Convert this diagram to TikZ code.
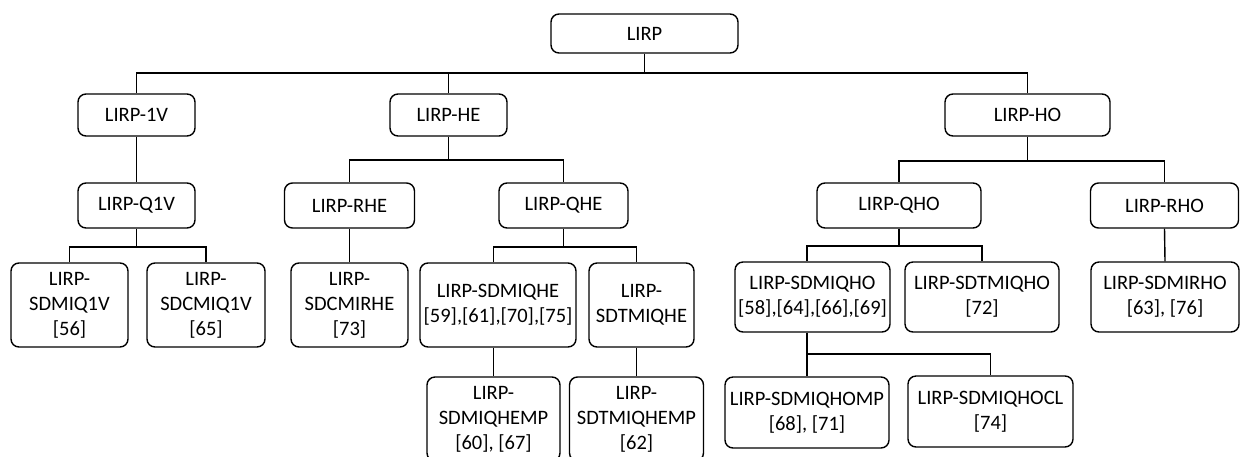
\documentclass[tikz,border=0pt]{standalone}
\usepackage{fontspec}
\setmainfont{Carlito}
\begin{document}
\begin{tikzpicture}[x=1pt,y=-1pt,
  box/.style={draw, rounded corners=8pt, line width=1.4pt, align=center,
              inner sep=0pt, font=\fontsize{20.5}{25}\selectfont},
  wh/.style 2 args={minimum width=#1pt, minimum height=#2pt},
  link/.style={line width=1.4pt}]
\useasboundingbox (0,0) rectangle (1241,456);

% level 0
\node[box, wh={187}{39}] (root) at (644.5,33.5) {LIRP};
% level 1
\node[box, wh={117}{42}] (v1) at (136.5,115) {LIRP-1V};
\node[box, wh={117}{42}] (he) at (448.5,115) {LIRP-HE};
\node[box, wh={165}{42}] (ho) at (1027.5,115) {LIRP-HO};
% level 2
\node[box, wh={117}{45}] (q1v) at (136.5,205.5) {LIRP-Q1V};
\node[box, wh={130}{45}] (rhe) at (349.5,205.5) {LIRP-RHE};
\node[box, wh={129}{45}] (qhe) at (563.5,205.5) {LIRP-QHE};
\node[box, wh={164}{45}] (qho) at (899,205.5) {LIRP-QHO};
\node[box, wh={148}{45}] (rho) at (1164.5,205.5) {LIRP-RHO};
% level 3
\node[box, wh={117}{84}] (sdmiq1v) at (69.5,305) {LIRP-\\SDMIQ1V\\{}[56]};
\node[box, wh={118}{84}] (sdcmiq1v) at (206,305) {LIRP-\\SDCMIQ1V\\{}[65]};
\node[box, wh={117}{84}] (sdcmirhe) at (349.5,305) {LIRP-\\SDCMIRHE\\{}[73]};
\node[box, wh={156}{84}] (sdmiqhe) at (498,305) {LIRP-SDMIQHE\\{}[59],[61],[70],[75]};
\node[box, wh={105}{84}] (sdtmiqhe) at (641.5,305) {LIRP-\\SDTMIQHE};
\node[box, wh={155}{70}] (sdmiqho) at (812.5,297) {LIRP-SDMIQHO\\{}[58],[64],[66],[69]};
\node[box, wh={154}{70}] (sdtmiqho) at (982,297) {LIRP-SDTMIQHO\\{}[72]};
\node[box, wh={148}{70}] (sdmirho) at (1165,297) {LIRP-SDMIRHO\\{}[63], [76]};
% level 4
\node[box, wh={133}{84}] (sdmiqhemp) at (493.5,419) {LIRP-\\SDMIQHEMP\\{}[60], [67]};
\node[box, wh={134}{84}] (sdtmiqhemp) at (636.5,419) {LIRP-\\SDTMIQHEMP\\{}[62]};
\node[box, wh={164}{71}] (sdmiqhomp) at (807,412.5) {LIRP-SDMIQHOMP\\{}[68], [71]};
\node[box, wh={165}{71}] (sdmiqhocl) at (990.5,411.5) {LIRP-SDMIQHOCL\\{}[74]};

% bus levels
\coordinate (b0) at (0,73);
\coordinate (bhe) at (0,160);
\coordinate (bho) at (0,161);
\coordinate (bq1) at (0,247);
\coordinate (bqhe) at (0,247);
\coordinate (bqho) at (0,246);
\coordinate (bsd) at (0,354);

% connectors
\draw[link] (root.south) -- (root.south |- b0) -| (v1.north);
\draw[link] (root.south |- b0) -| (he.north);
\draw[link] (root.south |- b0) -| (ho.north);

\draw[link] (v1.south) -- (q1v.north);

\draw[link] (he.south) -- (he.south |- bhe) -| (rhe.north);
\draw[link] (he.south |- bhe) -| (qhe.north);

\draw[link] (ho.south) -- (ho.south |- bho) -| (qho.north);
\draw[link] (ho.south |- bho) -| (rho.north);

\draw[link] (q1v.south) -- (q1v.south |- bq1) -| (sdmiq1v.north);
\draw[link] (q1v.south |- bq1) -| (sdcmiq1v.north);

\draw[link] (rhe.south) -- (sdcmirhe.north);

\draw[link] (qhe.south) -- (qhe.south |- bqhe) -| (sdmiqhemp.north |- sdmiqhe.north);
\draw[link] (qhe.south |- bqhe) -| (sdtmiqhemp.north |- sdtmiqhe.north);

\draw[link] (sdmiqhemp.north |- sdmiqhe.south) -- (sdmiqhemp.north);
\draw[link] (sdtmiqhemp.north |- sdtmiqhe.south) -- (sdtmiqhemp.north);

\draw[link] (qho.south) -- (qho.south |- bqho) -| (sdmiqhomp.north |- sdmiqho.north);
\draw[link] (qho.south |- bqho) -| (sdtmiqho.north);

\draw[link] (rho.south) -- (sdmirho.north);

\draw[link] (sdmiqhomp.north |- sdmiqho.south) -- (sdmiqhomp.north);
\draw[link] (sdmiqhomp.north |- bsd) -| (sdmiqhocl.north);
\end{tikzpicture}
\end{document}
